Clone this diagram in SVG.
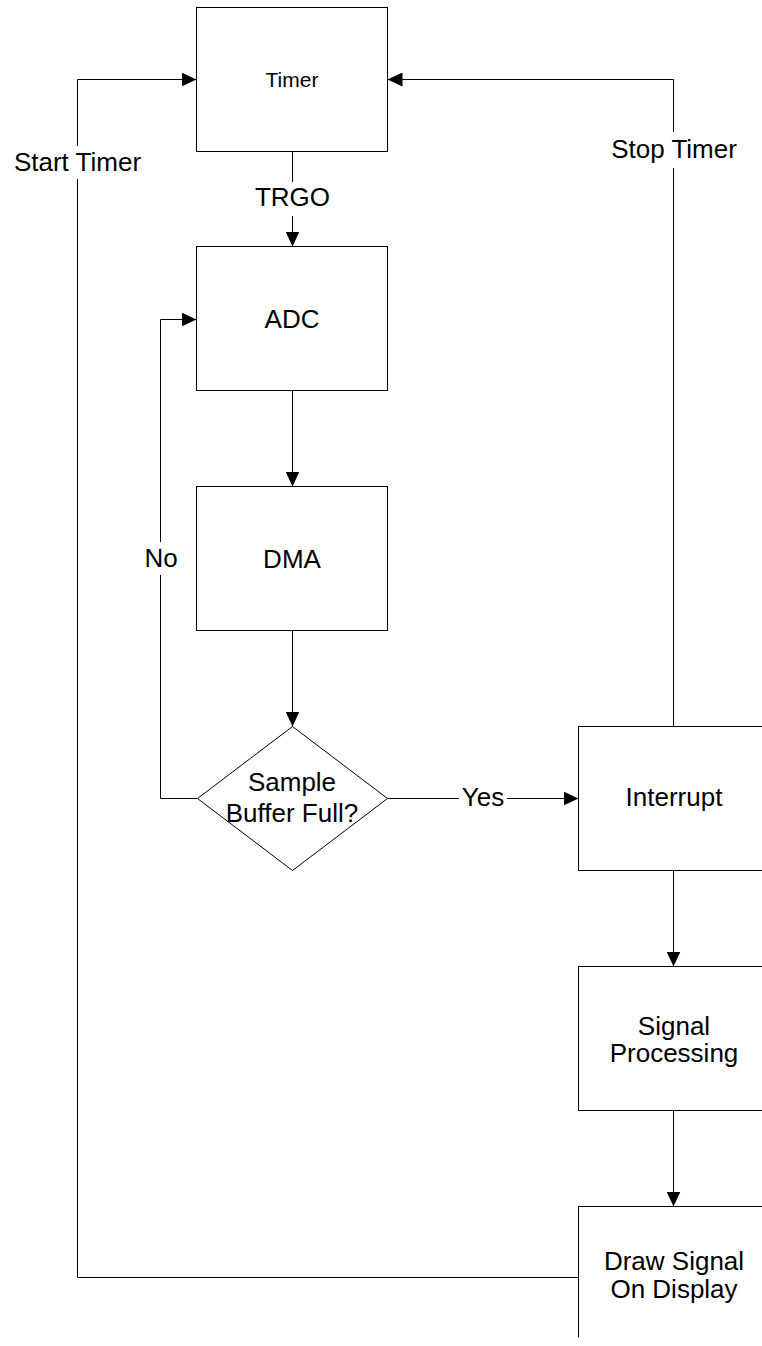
<svg xmlns="http://www.w3.org/2000/svg" width="762" height="1346" viewBox="0 0 762 1346">
  <style>
    .box { fill: #ffffff; stroke: #000000; stroke-width: 1; }
    .wire { fill: none; stroke: #000000; stroke-width: 1; }
    .txt { font-family: "Liberation Sans", Arial, sans-serif; font-size: 26px; fill: #000000; text-anchor: middle; }
    .small { font-size: 21px; }
    .bg { fill: #ffffff; stroke: none; }
  </style>
  <defs>
    <marker id="arrow" viewBox="0 0 15 14" refX="15" refY="7" markerWidth="15" markerHeight="14" markerUnits="userSpaceOnUse" orient="auto">
      <path d="M0,0 L15,7 L0,14 Z" fill="#000000"/>
    </marker>
    <clipPath id="page-cut">
      <rect x="0" y="0" width="762" height="1337.5"/>
    </clipPath>
  </defs>

  <rect x="0" y="0" width="762" height="1346" fill="#ffffff"/>

  <!-- connectors -->
  <g id="connectors">
    <path class="wire" d="M292.5,151.5 V246.5" marker-end="url(#arrow)"/>
    <path class="wire" d="M292.5,390.5 V486.5" marker-end="url(#arrow)"/>
    <path class="wire" d="M292.5,630.5 V726.5" marker-end="url(#arrow)"/>
    <path class="wire" d="M387.5,798.5 H578.5" marker-end="url(#arrow)"/>
    <path class="wire" d="M197.5,798.5 H160.5 V319.5 H196.5" marker-end="url(#arrow)"/>
    <path class="wire" d="M673.5,870.5 V966.5" marker-end="url(#arrow)"/>
    <path class="wire" d="M673.5,1110.5 V1206.5" marker-end="url(#arrow)"/>
    <path class="wire" d="M673.5,726.5 V79.5 H387.5" marker-end="url(#arrow)"/>
    <path class="wire" d="M578.5,1277.5 H77.5 V79.5 H196.5" marker-end="url(#arrow)"/>
  </g>

  <!-- connector labels -->
  <g id="labels">
    <rect class="bg" x="254" y="182" width="77" height="34"/>
    <text class="txt" x="292.5" y="206">TRGO</text>
    <rect class="bg" x="10" y="146" width="135" height="33"/>
    <text class="txt" x="77.5" y="171">Start Timer</text>
    <rect class="bg" x="608" y="132" width="132" height="36"/>
    <text class="txt" x="674" y="158">Stop Timer</text>
    <rect class="bg" x="143" y="542" width="36" height="33"/>
    <text class="txt" x="161" y="567">No</text>
    <rect class="bg" x="459" y="786" width="48" height="28"/>
    <text class="txt" x="483" y="806">Yes</text>
  </g>

  <!-- nodes -->
  <g id="timer">
    <rect class="box" x="196.5" y="7.5" width="191" height="144"/>
    <text class="txt small" x="292" y="87">Timer</text>
  </g>
  <g id="adc">
    <rect class="box" x="196.5" y="246.5" width="191" height="144"/>
    <text class="txt" x="292" y="328">ADC</text>
  </g>
  <g id="dma">
    <rect class="box" x="196.5" y="486.5" width="191" height="144"/>
    <text class="txt" x="292" y="568">DMA</text>
  </g>
  <g id="buffer-full">
    <polygon class="box" points="292.5,726.5 387.5,798.5 292.5,870.5 197.5,798.5"/>
    <text class="txt" x="292" y="791">Sample</text>
    <text class="txt" x="292" y="822">Buffer Full?</text>
  </g>
  <g id="interrupt">
    <rect class="box" x="578.5" y="726.5" width="191" height="144"/>
    <text class="txt" x="674" y="806">Interrupt</text>
  </g>
  <g id="signal-processing">
    <rect class="box" x="578.5" y="966.5" width="191" height="144"/>
    <text class="txt" x="674" y="1034.5">Signal</text>
    <text class="txt" x="674" y="1062">Processing</text>
  </g>
  <g id="draw-signal" clip-path="url(#page-cut)">
    <rect class="box" x="578.5" y="1206.5" width="191" height="144"/>
    <text class="txt" x="674" y="1269.5">Draw Signal</text>
    <text class="txt" x="674" y="1298">On Display</text>
  </g>
</svg>
